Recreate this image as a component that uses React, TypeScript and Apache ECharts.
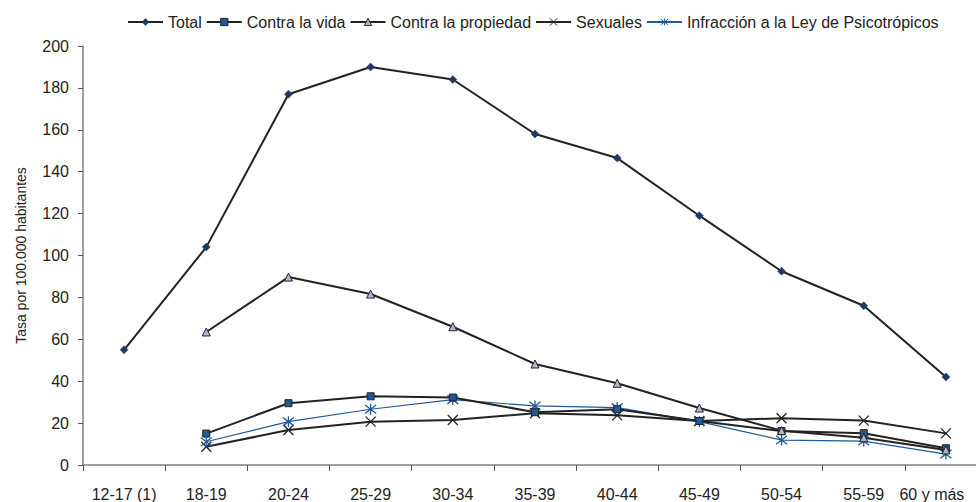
import React, { useEffect, useRef } from "react";
import * as echarts from "echarts";

const ageGroups = ["12-17 (1)", "18-19", "20-24", "25-29", "30-34", "35-39", "40-44", "45-49", "50-54", "55-59", "60 y más"];

const total = [55, 104, 177, 190, 184, 158, 146.5, 119, 92.5, 76, 42];
const contraLaVida = [null, 15, 29.5, 32.8, 32.2, 25.2, 26.6, 21, 16.2, 15.2, 8];
const contraLaPropiedad = [null, 63.5, 89.7, 81.6, 66, 48.2, 39, 27.2, 16.4, 13, 7.2];
const sexuales = [null, 8.7, 16.7, 20.7, 21.5, 24.7, 23.7, 21, 22.3, 21.2, 15.1];
const psicotropicos = [null, 11.1, 20.7, 26.6, 31.2, 28.2, 27.4, 20.7, 11.9, 11.4, 5.2];

const yTicks = { min: 0, max: 200, interval: 20 };

const FONT = "Liberation Sans, Arial, sans-serif";
const INK = "#222222";
const BLUE = "#1f5a96";
const NAVY = "#1d3a66";
const LILAC = "#b4b4d2";

const crossSymbol = "path://M0,0L10,10M10,0L0,10";
const starSymbol = "path://M0,0L10,10M10,0L0,10M5,-1.5L5,11.5";

const styles = {
  total: { color: NAVY, borderColor: NAVY, borderWidth: 0.5 },
  vida: { color: BLUE, borderColor: INK, borderWidth: 1 },
  propiedad: { color: LILAC, borderColor: INK, borderWidth: 1 },
  sexuales: { color: "rgba(0,0,0,0)", borderColor: INK, borderWidth: 1.3 },
  psico: { color: "rgba(0,0,0,0)", borderColor: BLUE, borderWidth: 1.3 },
};

export default function App() {
  const ref = useRef<HTMLDivElement>(null);

  useEffect(() => {
    if (!ref.current) return;
    const chart = echarts.init(ref.current, undefined, { renderer: "svg" });

    const blackLine = { color: INK, width: 2 };
    const lastIndex = ageGroups.length - 1;

    chart.setOption({
      animation: false,
      backgroundColor: "#ffffff",
      textStyle: { fontFamily: FONT },
      legend: {
        left: 122,
        top: 9,
        itemWidth: 35,
        itemHeight: 9,
        itemGap: 4,
        textStyle: { fontFamily: FONT, fontSize: 16, color: INK },
        data: [
          { name: "Total", itemStyle: styles.total },
          { name: "Contra la vida", itemStyle: styles.vida },
          { name: "Contra la propiedad", itemStyle: styles.propiedad },
          { name: "Sexuales", itemStyle: { ...styles.sexuales, borderWidth: 1 } },
          { name: "Infracción a la Ley de Psicotrópicos", itemStyle: { ...styles.psico, borderWidth: 1 } },
        ],
      },
      grid: { left: 83, top: 46, bottom: 37, right: 0, containLabel: false },
      xAxis: {
        type: "category",
        data: ageGroups,
        boundaryGap: true,
        axisLine: { lineStyle: { color: "#808080", width: 1.5 } },
        axisTick: { show: true, length: 6, lineStyle: { color: "#555555" } },
        axisLabel: {
          fontFamily: FONT,
          fontSize: 16,
          color: INK,
          margin: 21,
          interval: 0,
          // the last label is pulled left so it stays inside the visible frame
          formatter: (value: string, index: number) => (index === lastIndex ? `{edge|${value}}` : value),
          rich: {
            edge: { fontFamily: FONT, fontSize: 16, color: INK, padding: [0, 28, 0, 0] },
          },
        },
        splitLine: { show: false },
      },
      yAxis: {
        type: "value",
        min: yTicks.min,
        max: yTicks.max,
        interval: yTicks.interval,
        name: "Tasa por 100.000 habitantes",
        nameLocation: "middle",
        nameGap: 55,
        nameTextStyle: { fontFamily: FONT, fontSize: 14, color: INK },
        axisLine: { show: true, lineStyle: { color: "#808080", width: 1.5 } },
        axisTick: { show: true, length: 5, lineStyle: { color: "#555555" } },
        axisLabel: { fontFamily: FONT, fontSize: 16, color: INK, margin: 14 },
        splitLine: { show: false },
      },
      series: [
        {
          name: "Total",
          type: "line",
          data: total,
          symbol: "diamond",
          symbolSize: 8,
          lineStyle: blackLine,
          itemStyle: styles.total,
          z: 5,
        },
        {
          name: "Contra la vida",
          type: "line",
          data: contraLaVida,
          symbol: "rect",
          symbolSize: 7,
          lineStyle: blackLine,
          itemStyle: styles.vida,
          z: 4,
        },
        {
          name: "Contra la propiedad",
          type: "line",
          data: contraLaPropiedad,
          symbol: "triangle",
          symbolSize: 8,
          lineStyle: blackLine,
          itemStyle: styles.propiedad,
          z: 4,
        },
        {
          name: "Sexuales",
          type: "line",
          data: sexuales,
          symbol: crossSymbol,
          symbolSize: 10,
          lineStyle: blackLine,
          itemStyle: styles.sexuales,
          z: 3,
        },
        {
          name: "Infracción a la Ley de Psicotrópicos",
          type: "line",
          data: psicotropicos,
          symbol: starSymbol,
          symbolSize: 11,
          lineStyle: { color: BLUE, width: 1.2 },
          itemStyle: styles.psico,
          z: 3,
        },
      ],
    });

    return () => chart.dispose();
  }, []);

  return (
    <div style={{ width: 976, height: 502, position: "absolute", left: 0, top: 0, overflow: "hidden" }}>
      <div ref={ref} style={{ width: 987, height: 502 }} />
    </div>
  );
}
